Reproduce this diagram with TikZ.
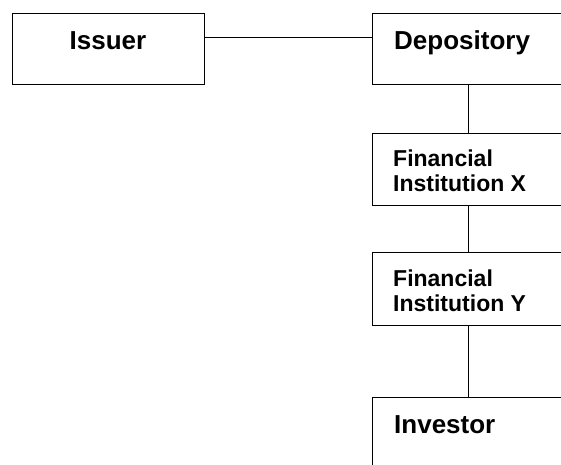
\documentclass[tikz,border=0pt]{standalone}
\usepackage{fontspec}
\setmainfont{Liberation Sans}
\begin{document}
\begin{tikzpicture}[x=1pt,y=-1pt,
  box/.style={draw, line width=1.4pt, minimum width=192pt, inner sep=0pt, anchor=north west},
  bigtext/.style={font=\fontsize{26}{30}\selectfont\bfseries, inner sep=0pt},
  smalltext/.style={font=\fontsize{23}{25}\selectfont\bfseries, inner sep=0pt, align=left},
  link/.style={line width=1.4pt}]
\useasboundingbox (0,0) rectangle (561,464);
\fill[white] (0,0) rectangle (561,464);
\clip (0,0) rectangle (561,464);
% boxes
\node[box, minimum height=71pt] (issuer) at (12,13) {};
\node[box, minimum height=71pt] (dep) at (372,13) {};
\node[box, minimum height=72pt] (finx) at (372,133) {};
\node[box, minimum height=73pt] (finy) at (372,252) {};
\node[box, minimum height=72pt] (inv) at (372,397) {};
% texts
\node[bigtext, anchor=base] (issuerlabel) at (108,49.5) {Issuer};
\node[bigtext, anchor=base west] (deplabel) at (394,49.5) {Depository};
\node[smalltext, anchor=north west] (finxlabel) at (393,149.5) {Financial\\Institution X};
\node[smalltext, anchor=north west] (finylabel) at (393,269.5) {Financial\\Institution Y};
\node[bigtext, anchor=base west] (invlabel) at (394,433) {Investor};
% connectors
\draw[link] ([yshift=11.5pt]issuer.east) -- ([yshift=11.5pt]dep.west);
\draw[link] (dep.south) -- (finx.north);
\draw[link] (finx.south) -- (finy.north);
\draw[link] (finy.south) -- (inv.north);
\end{tikzpicture}
\end{document}
